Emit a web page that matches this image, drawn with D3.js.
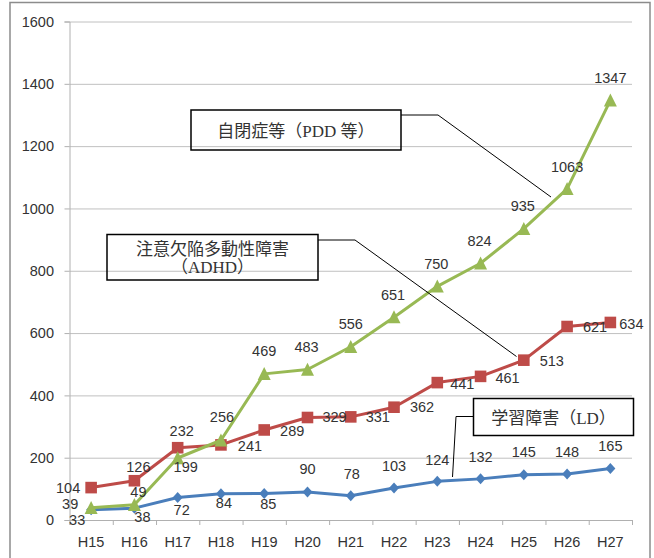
<!DOCTYPE html>
<html>
<head>
<meta charset="utf-8">
<script src="https://cdn.jsdelivr.net/npm/d3@7"></script>
<style>
  html, body { margin: 0; padding: 0; background: #fff; }
  svg { display: block; }
  .num { font-family: "Liberation Sans", Arial, sans-serif; font-size: 14.5px; fill: #333; }
  .note { font-family: "Liberation Serif", "Noto Sans CJK JP", serif; font-size: 17px; fill: #333; }
</style>
</head>
<body>
<svg id="chart" width="654" height="558"></svg>
<script>
// Fiscal years (Heisei 15 – 27)
const categories = ["H15", "H16", "H17", "H18", "H19", "H20", "H21", "H22", "H23", "H24", "H25", "H26", "H27"];

// Counts per year
const ldValues   = [33, 38, 72, 84, 85, 90, 78, 103, 124, 132, 145, 148, 165];
const adhdValues = [104, 126, 232, 241, 289, 329, 331, 362, 441, 461, 513, 621, 634];
const pddValues  = [39, 49, 199, 256, 469, 483, 556, 651, 750, 824, 935, 1063, 1347];

// Value axis
const yTicks = [0, 200, 400, 600, 800, 1000, 1200, 1400, 1600];

// Series names shown in the callouts
const ldName   = ["学習障害（LD）"];
const adhdName = ["注意欠陥多動性障害", "（ADHD）"];
const pddName  = ["自閉症等（PDD 等）"];

// Where each value label sits relative to its marker (dx, dy in px)
const ldLabelOffsets   = [[-14,10],[8,9],[4,12],[3,9],[4,10],[0,-23],[1,-22],[0,-22],[0,-22],[0,-22],[0,-23],[0,-22],[0,-23]];
const adhdLabelOffsets = [[-23,0],[4,-14],[4,-17],[29,1],[28,1],[27,-1],[27,0],[28,0],[25,1],[27,1],[28,1],[28,0],[21,1]];
const pddLabelOffsets  = [[-21,-4],[4,-13],[8,9],[1,-23],[0,-23],[-1,-23],[0,-23],[-1,-22],[-1,-23],[-1,-22],[-1,-23],[0,-22],[0,-23]];

const svg = d3.select("#chart");

const plot = { left: 69.5, right: 632, top: 21.5, bottom: 520 };

const x = d3.scaleBand().domain(categories).range([plot.left, plot.right]).padding(0);
const y = d3.scaleLinear().domain([0, 1600]).range([plot.bottom, plot.top]);
const cx = c => x(c) + x.bandwidth() / 2;

// Outer frame
svg.append("rect")
  .attr("x", 10).attr("y", 2.5).attr("width", 640).attr("height", 570)
  .attr("fill", "none").attr("stroke", "#8c8c8c").attr("stroke-width", 1.5);

// Horizontal gridlines
svg.append("g")
  .attr("transform", `translate(${plot.left},0)`)
  .call(d3.axisLeft(y).tickValues(yTicks.filter(v => v > 0)).tickSize(-(plot.right - plot.left)).tickFormat(""))
  .call(g => g.select(".domain").remove())
  .call(g => g.selectAll("line").attr("stroke", "#c0c0c0").attr("stroke-width", 1));

// Value axis with labels
svg.append("g")
  .attr("transform", `translate(${plot.left},0)`)
  .call(d3.axisLeft(y).tickValues(yTicks).tickSize(5).tickPadding(10.5).tickFormat(d3.format("d")))
  .call(g => g.select(".domain").attr("stroke", "#b0b0b0"))
  .call(g => g.selectAll("line").attr("stroke", "#b0b0b0"))
  .call(g => g.selectAll("text").attr("class", "num").attr("fill", null));

// Category axis: tick marks at category boundaries
const boundary = d3.scaleLinear().domain([0, categories.length]).range([plot.left, plot.right]);
svg.append("g")
  .attr("transform", `translate(0,${plot.bottom})`)
  .call(d3.axisBottom(boundary).tickValues(d3.range(0, categories.length + 1)).tickSize(5).tickFormat(""))
  .call(g => g.select(".domain").attr("stroke", "#b0b0b0"))
  .call(g => g.selectAll("line").attr("stroke", "#b0b0b0"));

svg.append("g")
  .attr("transform", `translate(0,${plot.bottom})`)
  .call(d3.axisBottom(x).tickSize(0).tickPadding(17))
  .call(g => g.select(".domain").remove())
  .call(g => g.selectAll("text").attr("class", "num").attr("fill", null));

// Marker shapes
const diamond  = "M0,-5.5L5,0L0,5.5L-5,0Z";
const square   = "M-5.8,-5.8H5.8V5.8H-5.8Z";
const triangle = "M0,-6.8L6.5,6.2L-6.5,6.2Z";

const series = [
  { values: ldValues,   color: "#4a7ebb", marker: diamond,  offsets: ldLabelOffsets },
  { values: adhdValues, color: "#be4b48", marker: square,   offsets: adhdLabelOffsets },
  { values: pddValues,  color: "#98b954", marker: triangle, offsets: pddLabelOffsets }
];

const line = d3.line().x((d, i) => cx(categories[i])).y(d => y(d));

series.forEach(s => {
  const g = svg.append("g");
  g.append("path")
    .datum(s.values)
    .attr("d", line)
    .attr("fill", "none")
    .attr("stroke", s.color)
    .attr("stroke-width", 3)
    .attr("stroke-linejoin", "round");
  g.selectAll("path.marker")
    .data(s.values)
    .join("path")
    .attr("class", "marker")
    .attr("d", s.marker)
    .attr("transform", (d, i) => `translate(${cx(categories[i])},${y(d)})`)
    .attr("fill", s.color);
});

// Value labels
series.forEach(s => {
  svg.append("g").selectAll("text")
    .data(s.values)
    .join("text")
    .attr("class", "num")
    .attr("text-anchor", "middle")
    .attr("x", (d, i) => cx(categories[i]) + s.offsets[i][0])
    .attr("y", (d, i) => y(d) + s.offsets[i][1])
    .attr("dy", "0.36em")
    .text(d => d);
});

// Callouts: box, text and leader line
function callout(box, lines, baselines, leader) {
  const g = svg.append("g");
  g.append("polyline")
    .attr("points", leader.map(p => p.join(",")).join(" "))
    .attr("fill", "none").attr("stroke", "#000").attr("stroke-width", 1);
  g.append("rect")
    .attr("x", box.x).attr("y", box.y).attr("width", box.w).attr("height", box.h)
    .attr("fill", "none").attr("stroke", "#000").attr("stroke-width", 1.5);
  lines.forEach((t, k) => {
    g.append("text")
      .attr("class", "note")
      .attr("text-anchor", "middle")
      .attr("x", box.x + box.w / 2)
      .attr("y", baselines[k])
      .text(t);
  });
}

callout({ x: 191, y: 110, w: 210, h: 40 }, pddName, [136.5],
  [[401, 115], [438, 115], [551, 197]]);

callout({ x: 107, y: 234.5, w: 211, h: 45.5 }, adhdName, [254.5, 272.5],
  [[318, 240], [355, 240], [516.5, 356.5]]);

callout({ x: 473.5, y: 398.5, w: 160, h: 37 }, ldName, [424],
  [[473.5, 416.5], [456, 416.5], [452.5, 477]]);
</script>
</body>
</html>
